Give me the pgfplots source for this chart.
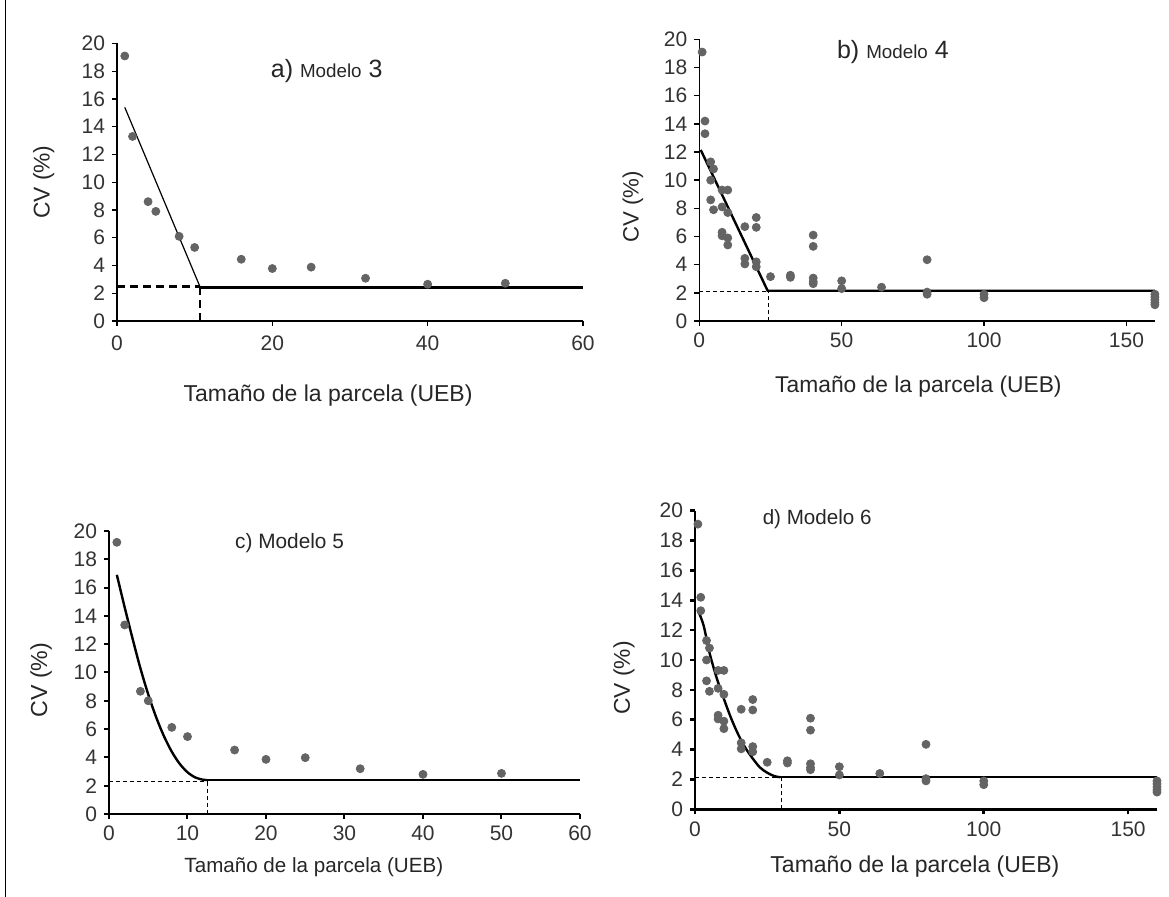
\documentclass[border=0pt]{standalone}
\usepackage{fontspec}
\setmainfont{Liberation Sans}
\usepackage{pgfplots}
\usepackage{pgfplotstable}
\pgfplotsset{compat=1.18}

\definecolor{dot}{RGB}{100,100,100}

% CV (%) by plot size, model 3 and 5 (one value per size)
\pgfplotstableread{
x y
1 19.1
2 13.3
4 8.6
5 7.9
8 6.1
10 5.3
16 4.45
20 3.78
25 3.88
32 3.08
40 2.65
50 2.72
}\datasimple

\pgfplotstableread{
x y
1 19.2
2 13.36
4 8.67
5 8.0
8 6.12
10 5.47
16 4.52
20 3.86
25 3.98
32 3.2
40 2.8
50 2.87
}\datasimplec

% all shapes, models 4 and 6
\pgfplotstableread{
x y
1 19.1
2 14.2
2 13.3
4 11.3
5 10.8
4 10.0
4 8.6
5 7.9
8 9.3
10 9.3
8 8.1
10 7.7
8 6.3
8 6.05
10 5.9
10 5.4
16 6.7
20 7.35
20 6.65
16 4.45
16 4.05
20 4.2
20 3.85
25 3.15
32 3.25
32 3.1
40 6.1
40 5.3
40 3.05
40 2.8
40 2.65
50 2.85
50 2.3
64 2.4
80 4.35
80 2.05
80 1.9
100 1.9
100 1.65
160 1.9
160 1.7
160 1.5
160 1.3
160 1.15
}\dataall

\pgfplotsset{
  panel/.style={
    scale only axis,
    anchor=south west,
    axis lines=left,
    axis line style={-, line width=0.7pt},
    every tick/.style={black, line width=0.7pt},
    tick align=outside,
    tick pos=left,
    major tick length=2.5pt,
    xmin=0, ymin=0, ymax=20,
    ytick={0,2,...,20},
    tick label style={font=\fontsize{10.5}{12}\selectfont, text=black!80},
    /pgf/number format/assume math mode=true,
    clip=false,
    ylabel={CV (\%)},
    xlabel={Tamaño de la parcela (UEB)},
    label style={text=black!85},
  },
  pts/.style={only marks, mark=*, mark size=2pt, mark options={fill=dot, draw=dot}},
}

\begin{document}
\begin{tikzpicture}
\useasboundingbox (0,0) rectangle (584.5pt,448.5pt);
\draw[line width=0.8pt] (2.75pt,0) -- (2.75pt,448.5pt);

% a) Modelo 3
\begin{axis}[panel, at={(58.5pt,288pt)}, width=233pt, height=138.75pt,
  xmax=60, xtick={0,20,40,60},
  xticklabel style={yshift=-1.5pt},
  xlabel style={font=\fontsize{11.5}{13}\selectfont, at={(axis description cs:0.453,-0.267)}, anchor=center},
  ylabel style={font=\fontsize{11.4}{13}\selectfont, at={(axis description cs:-0.157,0.5)}, anchor=center}]
\addplot[pts] table {\datasimple};
\addplot[black, line width=0.6pt] coordinates {(1,15.4) (10.7,2.45)};
\addplot[black, line width=1.2pt] coordinates {(10.7,2.4) (60,2.4)};
\addplot[black, line width=1.1pt, dash pattern=on 4pt off 2.5pt] coordinates {(0,2.48) (10.7,2.48)};
\addplot[black, line width=1.1pt, dash pattern=on 4pt off 2.5pt] coordinates {(10.7,0) (10.7,2.4)};
\node[text=black!85] at (axis cs:27,18) {\fontsize{12.5}{14}\selectfont a) {\fontsize{9.4}{11}\selectfont Modelo} 3};
\end{axis}

% b) Modelo 4
\begin{axis}[panel, at={(349.65pt,288pt)}, width=227.8pt, height=140.8pt,
  xmax=160, xtick={0,50,100,150},
  xlabel style={font=\fontsize{11.4}{13}\selectfont, at={(axis description cs:0.481,-0.234)}, anchor=center},
  ylabel style={font=\fontsize{11.1}{13}\selectfont, at={(axis description cs:-0.146,0.405)}, anchor=center}]
\addplot[pts] table {\dataall};
\addplot[black, line width=1.2pt] coordinates {(0.5,12.15) (24,2.15) (160,2.15)};
\addplot[black, line width=0.45pt, dash pattern=on 2pt off 1.5pt] coordinates {(0,2.08) (24,2.08)};
\addplot[black, line width=0.45pt, dash pattern=on 2pt off 1.5pt] coordinates {(24.2,0) (24.2,2.15)};
\node[text=black!85] at (axis cs:68,19.1) {\fontsize{12.5}{14}\selectfont b) {\fontsize{9.4}{11}\selectfont Modelo} 4};
\end{axis}

% c) Modelo 5
\begin{axis}[panel, at={(54.5pt,41.5pt)}, width=235.5pt, height=141.5pt,
  xmax=60, xtick={0,10,...,60},
  axis line style={-, line width=1pt}, every tick/.style={black, line width=1pt},
  xlabel style={font=\fontsize{10.3}{12}\selectfont, at={(axis description cs:0.435,-0.187)}, anchor=center},
  ylabel style={font=\fontsize{11.6}{13}\selectfont, at={(axis description cs:-0.144,0.473)}, anchor=center}]
\addplot[pts] table {\datasimplec};
\addplot[black, line width=1.2pt, smooth] coordinates {(1,16.9) (2,14.6) (3,12.4) (4,10.3) (5,8.45) (6,6.85) (7,5.5) (8,4.4) (9,3.55) (10,2.95) (11,2.58) (12,2.42) (12.5,2.4)};
\addplot[black, line width=1.2pt] coordinates {(12.5,2.4) (60,2.4)};
\addplot[black, line width=0.45pt, dash pattern=on 2pt off 1.5pt] coordinates {(0,2.28) (12.5,2.28)};
\addplot[black, line width=0.45pt, dash pattern=on 2pt off 1.5pt] coordinates {(12.5,0) (12.5,2.35)};
\node[text=black!85] at (axis cs:23,19.15) {\fontsize{10.4}{12}\selectfont c) Modelo 5};
\end{axis}

% d) Modelo 6
\begin{axis}[panel, at={(347.5pt,43.85pt)}, width=231pt, height=149.3pt,
  xmax=160, xtick={0,50,100,150},
  axis line style={-, line width=1.3pt}, every tick/.style={black, line width=1.3pt},
  xlabel style={font=\fontsize{11.5}{13}\selectfont, at={(axis description cs:0.476,-0.193)}, anchor=center},
  ylabel style={font=\fontsize{11.4}{13}\selectfont, at={(axis description cs:-0.154,0.44)}, anchor=center}]
\addplot[pts] table {\dataall};
\addplot[black, line width=1.2pt, smooth] coordinates {(1.2,13.25) (3,12.3) (5,10.5) (7.5,8.8) (10,7.4) (12.5,6.1) (15,5.0) (17.5,4.1) (20,3.4) (22.5,2.8) (25,2.45) (27.5,2.22) (29.5,2.15)};
\addplot[black, line width=1.2pt] coordinates {(29.5,2.15) (160,2.15)};
\addplot[black, line width=0.45pt, dash pattern=on 2pt off 1.5pt] coordinates {(0,2.12) (29.5,2.12)};
\addplot[black, line width=0.45pt, dash pattern=on 2pt off 1.5pt] coordinates {(30,0) (30,2.15)};
\node[text=black!85] at (axis cs:42.3,19.44) {\fontsize{10.3}{12}\selectfont d) Modelo 6};
\end{axis}
\end{tikzpicture}
\end{document}
